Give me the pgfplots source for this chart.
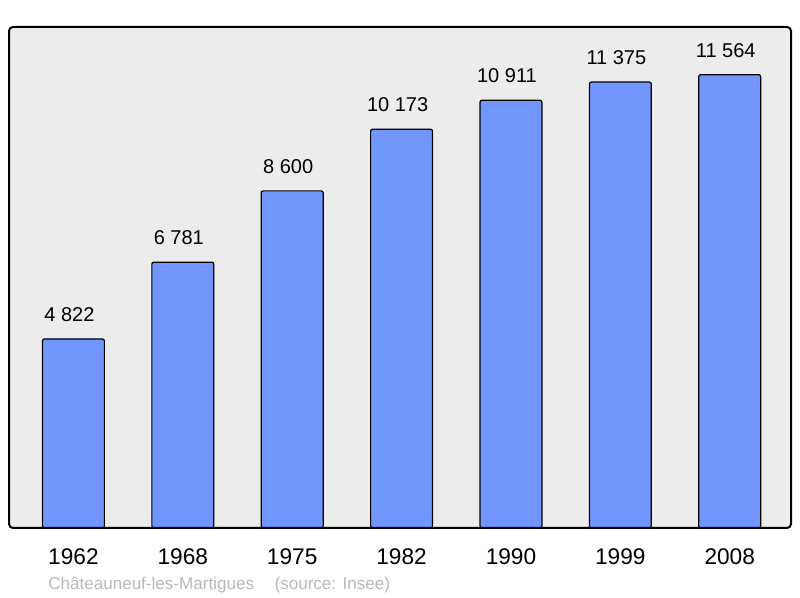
\documentclass[border=0pt]{standalone}
\usepackage{fontspec}
\setmainfont{Liberation Sans}
\usepackage{pgfplots}
\pgfplotsset{compat=1.18}
\definecolor{barblue}{RGB}{113,151,255}
\definecolor{plotbg}{RGB}{236,236,236}
\definecolor{srcgray}{RGB}{185,185,185}

\pgfplotstableread{
x year pop
0 1962 4822
1 1968 6781
2 1975 8600
3 1982 10173
4 1990 10911
5 1999 11375
6 2008 11564
}\popdata

\begin{document}
\begin{tikzpicture}
\path (0,0) rectangle (600pt,448.5pt);
\begin{axis}[
  at={(6.75pt,52.5pt)},anchor=south west,
  scale only axis,width=586.5pt,height=375.75pt,
  xmin=-0.589,xmax=6.56,ymin=0,ymax=12780,
  axis line style={draw=none},
  axis background/.style={fill=plotbg},
  ytick=\empty,
  xtick=data,xticklabels={1962,1968,1975,1982,1990,1999,2008},
  major tick length=0pt,
  xticklabel style={font=\fontsize{17}{20}\selectfont,anchor=north,inner sep=0pt,yshift=-15pt},
  ybar,bar width=0.566,
  nodes near coords,
  every node near coord/.append style={font=\fontsize{15}{18}\selectfont,anchor=south,inner sep=0pt,yshift=12.5pt,xshift=-3pt,text=black},
  /pgf/number format/assume math mode=true,
  /pgf/number format/1000 sep={\ },
  clip=false]
\addplot[draw=black,line width=0.9pt,fill=barblue,rounded corners=1.5pt] table[x=x,y=pop] {\popdata};
\draw[line width=1.5pt,rounded corners=3pt] (rel axis cs:0,0) rectangle (rel axis cs:1,1);
\end{axis}
\node[anchor=base west,inner sep=0pt,text=srcgray,font=\fontsize{12.8}{15}\selectfont] at (36pt,6pt) {Châteauneuf-les-Martigues\hspace{1.2em}(source: Insee)};
\end{tikzpicture}
\end{document}
